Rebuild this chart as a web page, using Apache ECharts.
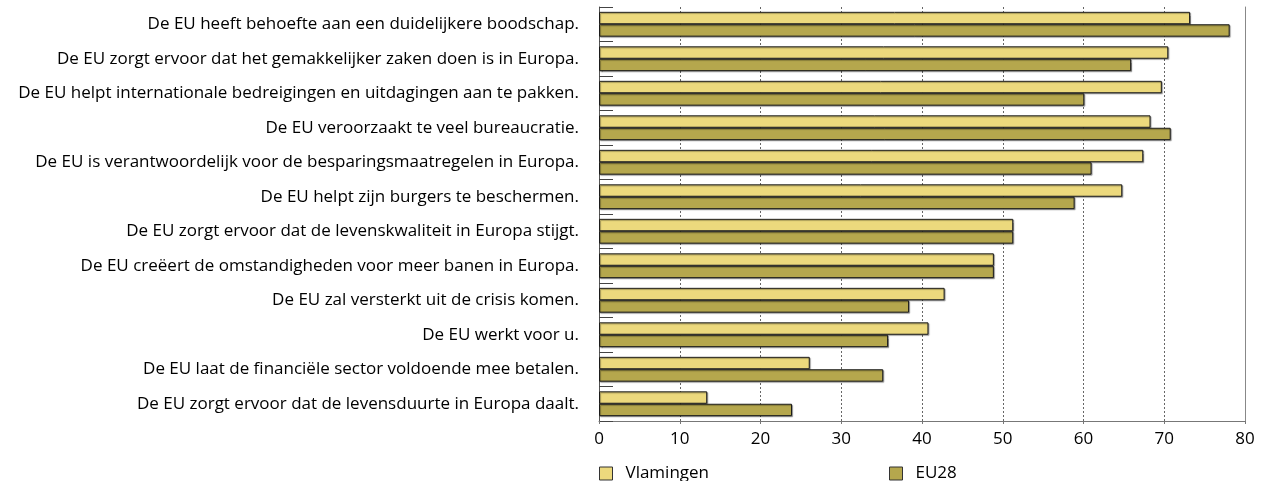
<!DOCTYPE html>
<html>
<head>
<meta charset="utf-8">
<script src="https://cdn.jsdelivr.net/npm/echarts@6/dist/echarts.min.js"></script>
<style>
  html, body { margin: 0; padding: 0; background: #fff; }
  #grafica { width: 1261px; height: 481px; }
</style>
</head>
<body>
<div id="grafica"></div>
<script>
let stellingen = [
  "De EU heeft behoefte aan een duidelijkere boodschap.",
  "De EU zorgt ervoor dat het gemakkelijker zaken doen is in Europa.",
  "De EU helpt internationale bedreigingen en uitdagingen aan te pakken.",
  "De EU veroorzaakt te veel bureaucratie.",
  "De EU is verantwoordelijk voor de besparingsmaatregelen in Europa.",
  "De EU helpt zijn burgers te beschermen.",
  "De EU zorgt ervoor dat de levenskwaliteit in Europa stijgt.",
  "De EU creëert de omstandigheden voor meer banen in Europa.",
  "De EU zal versterkt uit de crisis komen.",
  "De EU werkt voor u.",
  "De EU laat de financiële sector voldoende mee betalen.",
  "De EU zorgt ervoor dat de levensduurte in Europa daalt."
];
let vlamingen = [73.2, 70.5, 69.7, 68.3, 67.4, 64.8, 51.3, 48.9, 42.8, 40.8, 26.1, 13.4];
let eu28 = [78.1, 65.9, 60.1, 70.8, 61.0, 58.9, 51.3, 48.9, 38.4, 35.8, 35.2, 23.9];
let xTicks = [0, 10, 20, 30, 40, 50, 60, 70, 80];

let fuente = 'Open Sans';
let kleurVl = '#ECD97D';
let kleurEu = '#B5A74D';

function balkStijl(kleur) {
  return {
    color: kleur,
    borderColor: '#1a1a1a',
    borderWidth: 1,
    shadowColor: 'rgba(0,0,0,0.35)',
    shadowBlur: 1,
    shadowOffsetX: 1,
    shadowOffsetY: 1
  };
}

function legendaStijl() {
  return { fontFamily: fuente, fontSize: 17, color: '#000', padding: [0, 0, 0, 8] };
}

let chartDom = document.getElementById('grafica');
let myChart = echarts.init(chartDom, null, { renderer: 'canvas' });

let option = {
  animation: false,
  textStyle: { fontFamily: fuente },
  grid: { left: 599, right: 16, top: 7, bottom: 60, containLabel: false },
  legend: [
    {
      data: ['Vlamingen'],
      left: 599, top: 465, padding: 0, icon: 'rect',
      itemWidth: 13, itemHeight: 13,
      itemStyle: { borderColor: '#333', borderWidth: 1, shadowBlur: 0, shadowOffsetX: 0, shadowOffsetY: 0 },
      textStyle: legendaStijl()
    },
    {
      data: ['EU28'],
      left: 889, top: 465, padding: 0, icon: 'rect',
      itemWidth: 13, itemHeight: 13,
      itemStyle: { borderColor: '#333', borderWidth: 1, shadowBlur: 0, shadowOffsetX: 0, shadowOffsetY: 0 },
      textStyle: legendaStijl()
    }
  ],
  xAxis: {
    type: 'value',
    min: xTicks[0],
    max: xTicks[xTicks.length - 1],
    interval: 10,
    axisLine: { show: true, lineStyle: { color: '#777', width: 1 } },
    axisTick: { show: true, length: 3, lineStyle: { color: '#777' } },
    axisLabel: { fontFamily: fuente, fontSize: 17, color: '#000', margin: 10 },
    splitLine: { show: true, lineStyle: { color: '#666', type: [2, 2], width: 1 } }
  },
  yAxis: [
    {
      type: 'category',
      data: stellingen,
      inverse: true,
      axisLine: { show: true, lineStyle: { color: '#555', width: 1 } },
      axisTick: { show: true, inside: true, length: 14, lineStyle: { color: '#444' } },
      axisLabel: { fontFamily: fuente, fontSize: 17, color: '#000', margin: 20 },
      splitLine: { show: false }
    },
    {
      type: 'category',
      data: stellingen,
      inverse: true,
      position: 'right',
      axisLine: { show: true, lineStyle: { color: '#888', width: 1 } },
      axisTick: { show: false },
      axisLabel: { show: false },
      splitLine: { show: false }
    }
  ],
  series: [
    {
      name: 'Vlamingen',
      type: 'bar',
      data: vlamingen,
      barGap: '0%',
      barCategoryGap: '28%',
      itemStyle: balkStijl(kleurVl)
    },
    {
      name: 'EU28',
      type: 'bar',
      data: eu28,
      barGap: '0%',
      barCategoryGap: '28%',
      itemStyle: balkStijl(kleurEu)
    }
  ]
};

myChart.setOption(option);
</script>
</body>
</html>
